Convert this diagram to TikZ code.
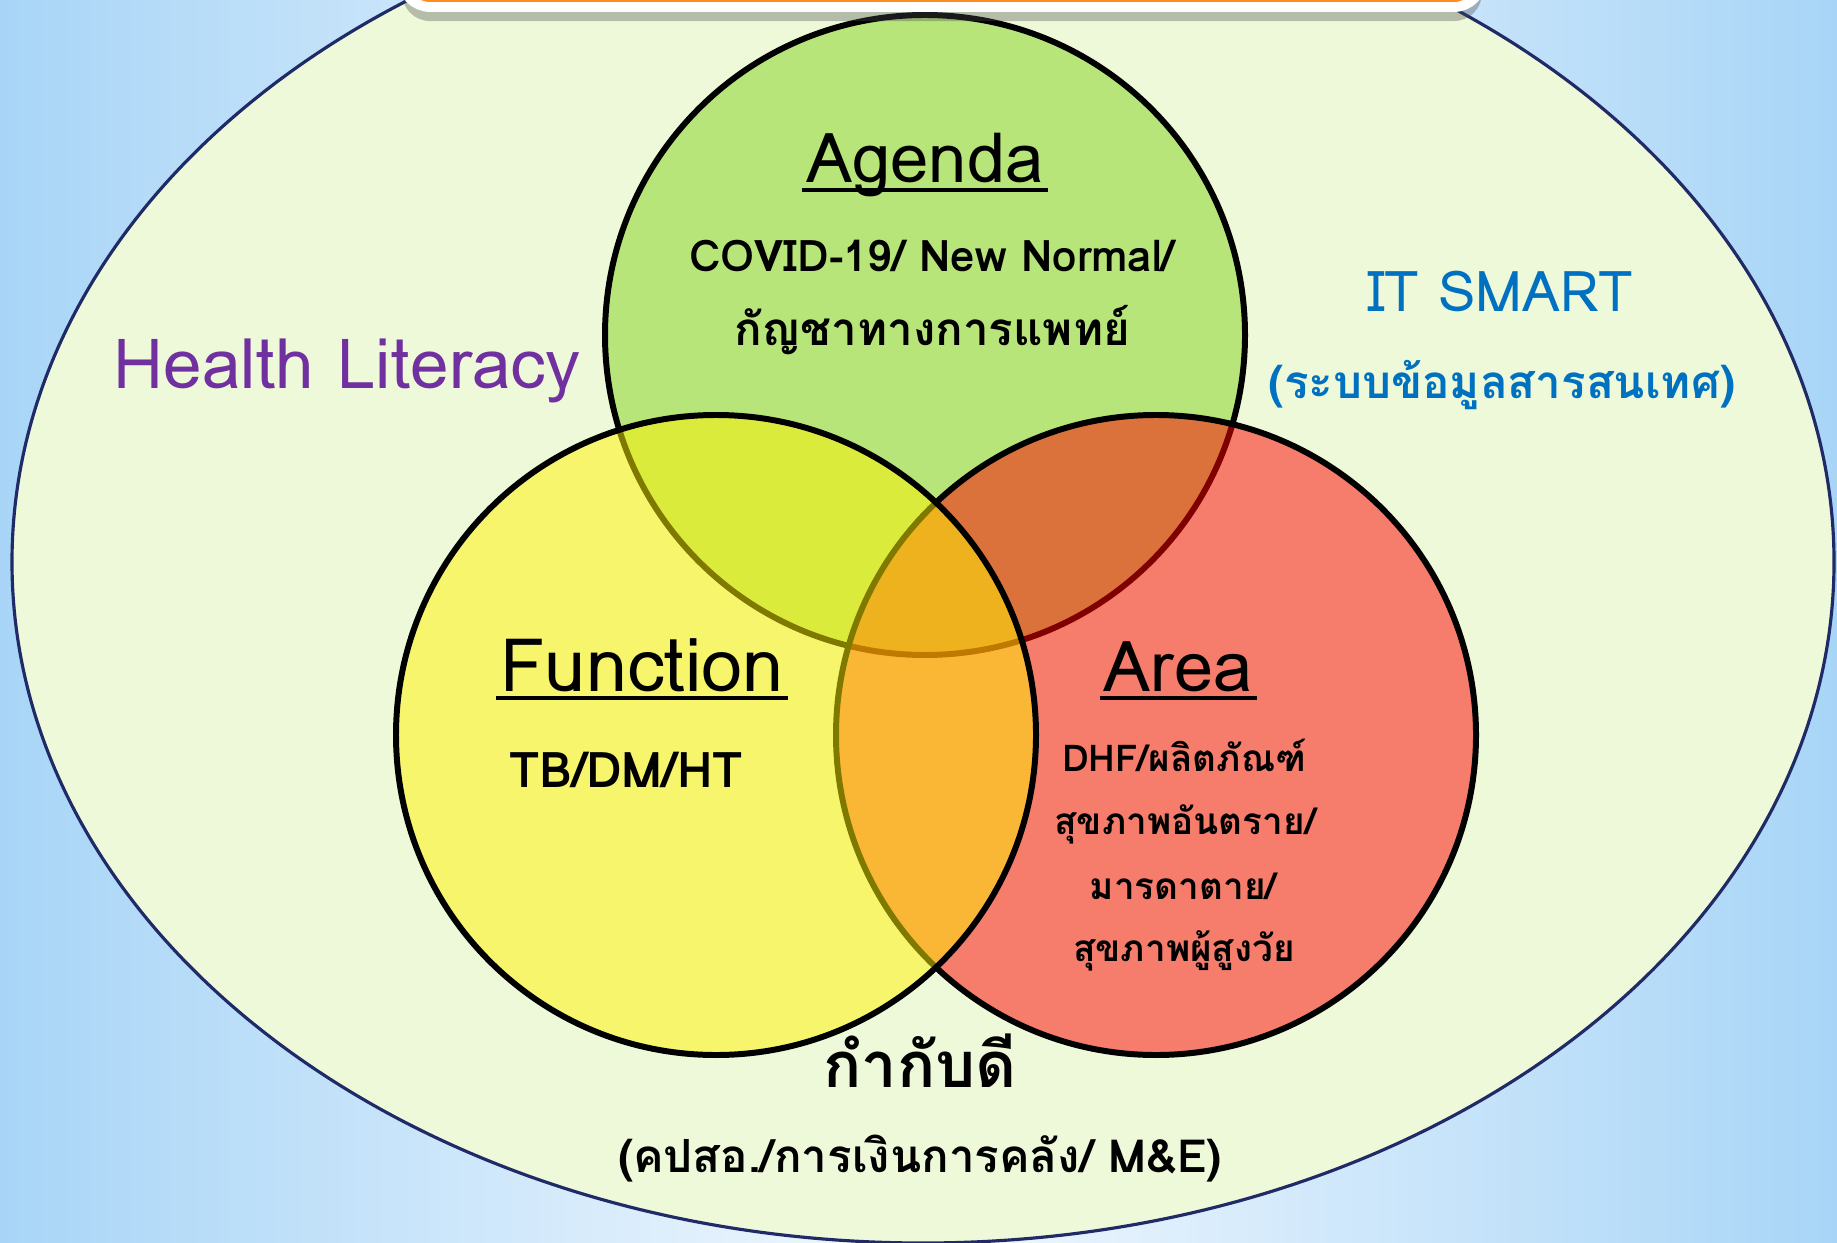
\documentclass[tikz,border=0pt]{standalone}
\usepackage{fontspec}
\newfontfamily\thaifont[Script=Thai]{Loma}
\usetikzlibrary{shadows}

\definecolor{bgblue}{RGB}{168,213,247}
\definecolor{bglight}{RGB}{242,248,254}
\definecolor{ovalfill}{RGB}{238,249,218}
\definecolor{ovalline}{RGB}{31,42,102}
\definecolor{agendagreen}{RGB}{130,211,26}
\definecolor{barorange}{RGB}{255,138,30}
\definecolor{hlpurple}{RGB}{112,48,160}
\definecolor{itblue}{RGB}{0,112,192}

\begin{document}
\begin{tikzpicture}[x=0.01cm,y=0.01cm,
  every node/.style={font=\thaifont,inner sep=1pt},
  ring/.style={draw=black,line width=1.7pt,fill opacity=0.5},
  title/.style={anchor=base,font=\thaifont\fontsize{21}{25}\selectfont},
  body/.style={anchor=base,font=\thaifont\bfseries\fontsize{12}{15}\selectfont},
  small/.style={anchor=base,font=\thaifont\bfseries\fontsize{10.5}{13}\selectfont},
  uline/.style={line width=1.1pt}]
\useasboundingbox (0,0) rectangle (1837,-1243);
\shade[left color=bgblue,right color=bgblue,middle color=bglight] (0,0) rectangle (1837,-1243);
\filldraw[fill=ovalfill,draw=ovalline,line width=0.9pt] (923,-562) ellipse [x radius=911,y radius=681];
\filldraw[ring,fill=agendagreen] (925,-335) circle [radius=320];
\filldraw[ring,fill=red] (1156,-735) circle [radius=320];
\filldraw[ring,fill=yellow] (716,-735) circle [radius=320];
\fill[barorange,draw=white,line width=2.8pt,rounded corners=8pt,
  drop shadow={shadow xshift=0pt,shadow yshift=-4pt,opacity=0.35,fill=black!70}]
  (402,80) rectangle (1482,-7);

\node[title,font=\thaifont\fontsize{19.6}{24}\selectfont] (agenda) at (925,-183) {Agenda};
\node[body,font=\thaifont\bfseries\fontsize{12.4}{15}\selectfont] (covid) at (932,-272) {COVID-19/ New Normal/};
\node[body,font=\thaifont\bfseries\fontsize{13}{16}\selectfont] (kanchha) at (932,-346) {กัญชาทางการแพทย์};
\node[anchor=base,text=hlpurple,font=\thaifont\fontsize{19.7}{24}\selectfont] (health) at (347,-388) {Health Literacy};
\node[anchor=base,text=itblue,font=\thaifont\fontsize{16}{20}\selectfont] (itsmart) at (1500,-312) {IT SMART};
\node[anchor=base,text=itblue,font=\thaifont\bfseries\fontsize{13}{16}\selectfont] (itthai) at (1502,-398) {(ระบบข้อมูลสารสนเทศ)};
\node[title] (func) at (642,-691) {Function};
\node[body,font=\thaifont\bfseries\fontsize{14}{17}\selectfont] (tbdm) at (626,-787) {TB/DM/HT};
\node[title,font=\thaifont\fontsize{20}{24}\selectfont] (area) at (1178,-691) {Area};
\node[small] (dhf) at (1184,-771) {DHF/ผลิตภัณฑ์};
\node[small] (danger) at (1185,-834) {สุขภาพอันตราย/};
\node[small] (mother) at (1183,-899) {มารดาตาย/};
\node[small] (elder) at (1184,-961) {สุขภาพผู้สูงวัย};
\node[anchor=base,font=\thaifont\bfseries\fontsize{18}{22}\selectfont] (govern) at (920,-1087) {กำกับดี};
\node[body,font=\thaifont\bfseries\fontsize{13}{16}\selectfont] (finance) at (920,-1172) {(คปสอ./การเงินการคลัง/ M\&E)};

\draw[uline] ([yshift=-2pt]agenda.base west) -- ([yshift=-2pt]agenda.base east);
\draw[uline] ([yshift=-2pt]func.base west) -- ([yshift=-2pt]func.base east);
\draw[uline] ([yshift=-2pt]area.base west) -- ([yshift=-2pt]area.base east);
\end{tikzpicture}
\end{document}
